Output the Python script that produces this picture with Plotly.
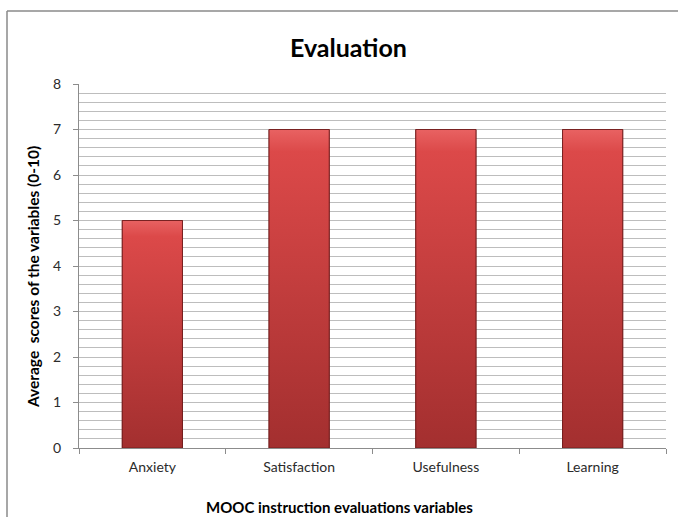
import plotly.graph_objects as go

# Evaluation scores per variable
categories = ["Anxiety", "Satisfaction", "Usefulness", "Learning"]
scores = [5, 7, 7, 7]
y_ticks = [0, 1, 2, 3, 4, 5, 6, 7, 8]

W, H = 678, 517
ML, MR, MT, MB = 79, 12, 84, 69
PW, PH = W - ML - MR, H - MT - MB


def px_x(p):
    return (p - ML) / PW


def px_y(p):
    return (H - MB - p) / PH


FONT = "Lato, 'Open Sans', sans-serif"
BAR_W = 0.41
TOP, MID, BOTTOM = "#dc4949", "#c23b3b", "#a32f2f"

fig = go.Figure()

fig.add_trace(go.Bar(
    x=categories, y=scores, width=BAR_W,
    marker=dict(color=MID, line=dict(color="#7e2323", width=1)),
    hoverinfo="x+y", showlegend=False,
))

# gradient faces over the bars, on a hidden numeric axis aligned with the categories
for i, v in enumerate(scores):
    x0, x1 = i - BAR_W / 2, i + BAR_W / 2
    fig.add_trace(go.Scatter(
        x=[x0, x1, x1, x0, x0], y=[0, 0, v, v, 0],
        xaxis="x2", mode="lines", fill="toself",
        fillgradient=dict(type="vertical",
                          colorscale=[[0, BOTTOM], [0.93, TOP], [1, "#e86262"]]),
        line=dict(color="rgba(110,28,28,0.85)", width=1),
        hoverinfo="skip", showlegend=False,
    ))

fig.update_layout(
    width=W, height=H,
    margin=dict(l=ML, r=MR, t=MT, b=MB),
    paper_bgcolor="white", plot_bgcolor="white",
    font=dict(family=FONT, size=14, color="#333333"),
    bargap=1 - BAR_W,
    xaxis=dict(
        type="category", range=[-0.5, 3.5],
        showline=True, linecolor="#8c8c8c", linewidth=1,
        ticks="outside", tickson="boundaries", ticklen=5, tickcolor="#8c8c8c",
        showgrid=False, zeroline=False, ticklabelstandoff=6,
        tickfont=dict(size=14, color="#2b2b2b"),
    ),
    xaxis2=dict(range=[-0.5, 3.5], overlaying="x", visible=False, fixedrange=True),
    yaxis=dict(
        range=[0, 8], tickvals=y_ticks,
        showline=True, linecolor="#8c8c8c", linewidth=1,
        ticks="outside", ticklen=5, tickcolor="#8c8c8c",
        showgrid=True, gridcolor="#bdbdbd", gridwidth=1,
        minor=dict(dtick=0.2, showgrid=True, gridcolor="#bdbdbd", gridwidth=1, ticks=""),
        zeroline=False, ticklabelstandoff=9,
        tickfont=dict(size=14, color="#2b2b2b"),
    ),
    annotations=[
        dict(text="<b>Evaluation</b>", xref="paper", yref="paper",
             x=px_x(348), y=px_y(47), xanchor="center", yanchor="middle",
             showarrow=False, font=dict(family=FONT, size=25, color="#000000")),
        dict(text="<b>MOOC instruction evaluations variables</b>", xref="paper", yref="paper",
             x=px_x(204), y=px_y(507), xanchor="left", yanchor="middle",
             showarrow=False, font=dict(family=FONT, size=15, color="#000000")),
        dict(text="<b>Average  scores of the variables (0-10)</b>", xref="paper", yref="paper",
             x=px_x(33), y=px_y(277), xanchor="center", yanchor="middle", textangle=-90,
             showarrow=False, font=dict(family=FONT, size=15.5, color="#000000")),
    ],
    shapes=[
        dict(type="line", xref="paper", yref="paper",
             x0=px_x(7), x1=px_x(7), y0=px_y(11), y1=px_y(H + 2),
             line=dict(color="#8a8a8a", width=1.5)),
        dict(type="line", xref="paper", yref="paper",
             x0=px_x(7), x1=px_x(W + 2), y0=px_y(11), y1=px_y(11),
             line=dict(color="#8a8a8a", width=1.5)),
    ],
)

fig.write_html("out.html")
